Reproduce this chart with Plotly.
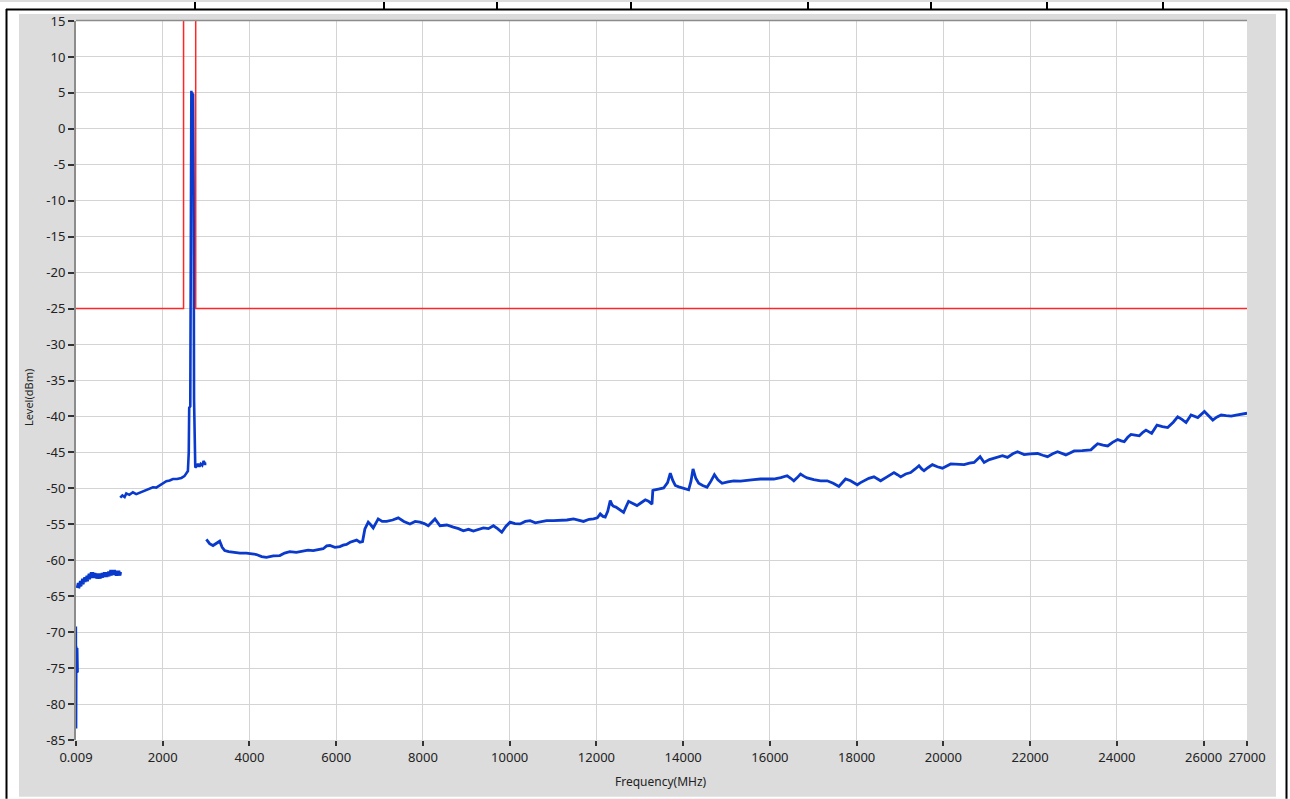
import plotly.graph_objects as go

# ---------------- data ----------------
seg1_freq = [0.009, 5, 10, 20, 30, 40]
seg1_level = [-69.2, -83.4, -72.0, -75.7, -72.2, -75.6]

seg2_freq = [45, 70, 95, 120, 145, 170, 195, 220, 245, 270, 295, 320, 345, 370, 395,
             420, 445, 470, 495, 520, 545, 570, 595, 620, 645, 670, 695, 720, 745, 770,
             795, 820, 845, 870, 895, 920, 945, 970, 995, 1010]
seg2_level = [-63.9, -63.2, -63.6, -62.9, -63.3, -62.6, -63.0, -62.4, -62.9, -62.2,
              -62.6, -61.9, -62.4, -61.7, -62.3, -61.8, -62.4, -61.9, -62.5, -62.0,
              -62.5, -61.9, -62.4, -61.8, -62.3, -61.7, -62.3, -61.7, -62.2, -61.6,
              -62.1, -61.4, -62.0, -61.4, -62.0, -61.5, -62.1, -61.5, -62.1, -61.6]

seg3_freq = [1020, 1070, 1120, 1159, 1230, 1312, 1390, 1466, 1540, 1621, 1700, 1773,
             1850, 1928, 2000, 2083, 2160, 2235, 2330, 2429, 2500, 2540, 2580, 2600,
             2610, 2635, 2645, 2660, 2670, 2680, 2690, 2700, 2712, 2722, 2750, 2790,
             2812, 2845, 2875, 2910, 2944, 2975, 3006]
seg3_level = [-51.3, -51.0, -51.2, -50.7, -50.9, -50.55, -50.8, -50.6, -50.45, -50.3,
              -50.0, -49.85, -49.9, -49.6, -49.4, -49.0, -48.9, -48.7, -48.7, -48.55,
              -48.3, -48.0, -47.6, -45.0, -38.8, -38.6, -8.7, 5.3, -8.5, 5.1, -8.6,
              4.9, -8.7, -37.6, -47.1, -46.9, -46.6, -47.0, -46.6, -46.8, -46.2,
              -46.6, -46.6]

seg4_freq = [3006, 3080, 3159, 3240, 3313, 3370, 3429, 3520, 3621, 3780, 3929, 4040,
             4160, 4280, 4391, 4550, 4699, 4810, 4930, 5080, 5237, 5350, 5468, 5590,
             5699, 5780, 5853, 5970, 6084, 6160, 6238, 6320, 6391, 6470, 6546, 6607,
             6661, 6738, 6800, 6853, 6968, 7060, 7162, 7300, 7430, 7560, 7700, 7820,
             7931, 8030, 8123, 8277, 8393, 8550, 8700, 8820, 8931, 9050, 9162, 9280,
             9393, 9510, 9624, 9720, 9817, 9910, 10009, 10120, 10240, 10360, 10471,
             10590, 10702, 10850, 11009, 11164, 11318, 11472, 11600, 11702, 11830,
             11933, 12020, 12088, 12150, 12203, 12260, 12318, 12360, 12395, 12450,
             12510, 12570, 12626, 12680, 12741, 12840, 12935, 13030, 13127, 13200,
             13281, 13300, 13318, 13430, 13549, 13640, 13703, 13760, 13818, 13900,
             14011, 14126, 14180, 14227, 14290, 14357, 14450, 14550, 14640, 14720,
             14800, 14897, 15030, 15165, 15320, 15474, 15630, 15781, 15930, 16089,
             16250, 16397, 16480, 16551, 16630, 16705, 16780, 16859, 17010, 17167,
             17321, 17460, 17590, 17660, 17744, 17859, 18014, 18090, 18167, 18280,
             18398, 18480, 18552, 18700, 18860, 18940, 19014, 19130, 19245, 19350,
             19437, 19500, 19553, 19650, 19746, 19860, 19977, 20169, 20320, 20477,
             20600, 20708, 20846, 20939, 21060, 21170, 21270, 21362, 21478, 21600,
             21709, 21862, 22010, 22170, 22290, 22401, 22520, 22632, 22824, 23016,
             23200, 23401, 23480, 23556, 23680, 23787, 23900, 24018, 24100, 24170,
             24250, 24325, 24420, 24517, 24600, 24671, 24802, 24925, 25050, 25171,
             25300, 25402, 25500, 25595, 25710, 25865, 26018, 26110, 26212, 26300,
             26404, 26520, 26635, 26750, 26866, 27000]
seg4_level = [-57.1, -57.7, -57.95, -57.6, -57.35, -58.2, -58.65, -58.8, -58.9, -59.0,
              -59.0, -59.1, -59.2, -59.5, -59.6, -59.4, -59.35, -59.0, -58.8, -58.9,
              -58.75, -58.6, -58.65, -58.5, -58.4, -58.0, -57.95, -58.2, -58.1, -57.9,
              -57.8, -57.5, -57.35, -57.2, -57.5, -57.4, -55.65, -54.7, -55.1, -55.5,
              -54.25, -54.6, -54.6, -54.4, -54.1, -54.6, -54.95, -54.6, -54.7, -54.9,
              -55.2, -54.25, -55.2, -55.1, -55.4, -55.6, -55.9, -55.7, -55.95, -55.7,
              -55.5, -55.6, -55.2, -55.6, -56.1, -55.3, -54.7, -54.9, -54.95, -54.6,
              -54.5, -54.8, -54.7, -54.5, -54.5, -54.5, -54.4, -54.25, -54.4, -54.6,
              -54.3, -54.25, -54.1, -53.55, -53.9, -54.0, -53.2, -51.7, -52.3, -52.5,
              -52.6, -52.9, -53.1, -53.35, -52.6, -51.8, -52.1, -52.4, -52.0, -51.6,
              -51.8, -52.2, -50.3, -50.25, -50.1, -49.95, -49.2, -47.9, -48.9, -49.6,
              -49.8, -49.95, -50.2, -49.0, -47.3, -48.6, -49.3, -49.6, -49.85, -49.0,
              -48.1, -48.8, -49.3, -49.1, -48.95, -49.0, -48.95, -48.8, -48.7, -48.75,
              -48.7, -48.5, -48.25, -48.6, -48.95, -48.5, -48.0, -48.3, -48.55, -48.8,
              -48.95, -48.95, -49.3, -49.75, -49.2, -48.7, -48.95, -49.5, -49.2, -48.95,
              -48.6, -48.4, -48.7, -48.95, -48.4, -47.8, -48.1, -48.4, -48.0, -47.8,
              -47.3, -46.85, -47.3, -47.55, -47.1, -46.7, -47.0, -47.2, -46.6, -46.7,
              -46.7, -46.5, -46.4, -45.6, -46.4, -46.0, -45.8, -45.7, -45.45, -45.7,
              -45.2, -44.9, -45.3, -45.2, -45.15, -45.4, -45.6, -45.2, -44.9, -45.35,
              -44.8, -44.75, -44.65, -44.2, -43.8, -44.0, -44.1, -43.6, -43.2, -43.4,
              -43.5, -42.9, -42.5, -42.6, -42.7, -42.2, -41.9, -42.35, -41.2, -41.4,
              -41.55, -40.8, -40.05, -40.4, -40.85, -39.8, -40.15, -39.3, -39.9, -40.5,
              -40.1, -39.8, -39.9, -39.95, -39.8, -39.7, -39.55]

limit_freq = [0.009, 2480, 2480, 2760, 2760, 27000]
limit_level = [-25, -25, 40, 40, -25, -25]

x_tickvals = [0.009, 2000, 4000, 6000, 8000, 10000, 12000, 14000, 16000, 18000,
              20000, 22000, 24000, 26000, 27000]
x_ticktext = ["0.009", "2000", "4000", "6000", "8000", "10000", "12000", "14000",
              "16000", "18000", "20000", "22000", "24000", "26000", "27000"]
y_tickvals = list(range(15, -90, -5))
y_ticktext = [str(v) for v in y_tickvals]

# ---------------- layout geometry (pixels) ----------------
W, H = 1290, 799
L, R, T, B = 76, 1247, 19, 740


def px(xp):
    return (xp - L) / (R - L)


def py(yp):
    return 1 - (yp - T) / (B - T)


BLUE = "#0a3acc"
RED = "#ff2626"

fig = go.Figure()
for fx, fy, lw in [(seg1_freq, seg1_level, 2.3), (seg2_freq, seg2_level, 4.5),
                   (seg3_freq, seg3_level, 2.6), (seg4_freq, seg4_level, 2.8)]:
    fig.add_trace(go.Scatter(x=fx, y=fy, mode="lines",
                             line=dict(color=BLUE, width=lw), hoverinfo="skip",
                             showlegend=False))
fig.add_trace(go.Scatter(x=limit_freq, y=limit_level, mode="lines",
                         line=dict(color=RED, width=1.5), hoverinfo="skip",
                         showlegend=False))

shapes = []
# white area outside grey panel
for x0, y0, x1, y1 in [(0, 0, 19, H), (1276, 0, W, H), (0, 0, W, 12), (0, 797, W, H)]:
    shapes.append(dict(type="rect", xref="paper", yref="paper", layer="below",
                       x0=px(x0), x1=px(x1), y0=py(y0), y1=py(y1),
                       fillcolor="white", line=dict(width=0)))
# black outer frame
shapes.append(dict(type="line", xref="paper", yref="paper", x0=px(6.5), x1=px(6.5),
                   y0=py(7), y1=py(H), line=dict(color="black", width=2)))
shapes.append(dict(type="line", xref="paper", yref="paper", x0=px(1286.5), x1=px(1286.5),
                   y0=py(7), y1=py(H), line=dict(color="black", width=2)))
shapes.append(dict(type="line", xref="paper", yref="paper", x0=px(6), x1=px(1287),
                   y0=py(7.5), y1=py(7.5), line=dict(color="black", width=2)))
for xv in [195, 384, 497, 631, 808, 931, 1047, 1163]:
    shapes.append(dict(type="line", xref="paper", yref="paper", x0=px(xv), x1=px(xv),
                       y0=py(0), y1=py(7.5), line=dict(color="black", width=2)))
# top frame line of the plot area
shapes.append(dict(type="line", xref="paper", yref="paper", x0=0, x1=1,
                   y0=py(18.5), y1=py(18.5), line=dict(color="#8c8c8c", width=1.5)))

FONT = "Noto Sans"
fig.update_layout(
    width=W, height=H, autosize=False,
    margin=dict(l=L, r=W - R, t=T, b=H - B, pad=0),
    paper_bgcolor="#dcdcdc", plot_bgcolor="white",
    font=dict(family=FONT, size=13, color="#222222"),
    shapes=shapes,
    xaxis=dict(range=[0.009, 27000], tickvals=x_tickvals, ticktext=x_ticktext,
               showgrid=True, gridcolor="#d4d4d4", gridwidth=1, zeroline=False,
               ticks="outside", ticklen=5, tickwidth=1.5, tickcolor="#333333",
               showline=False, tickfont=dict(size=13, color="#222222")),
    yaxis=dict(range=[-85, 15], tickvals=y_tickvals, ticktext=y_ticktext,
               showgrid=True, gridcolor="#d4d4d4", gridwidth=1, zeroline=False,
               ticks="outside", ticklen=6, tickwidth=1.5, tickcolor="#333333",
               showline=True, linecolor="#8c8c8c", linewidth=2,
               tickfont=dict(size=13, color="#222222")),
    annotations=[
        dict(text="Frequency(MHz)", xref="paper", yref="paper", x=px(661), y=py(782),
             showarrow=False, xanchor="center", yanchor="middle",
             font=dict(family=FONT, size=12, color="#222222")),
        dict(text="Level(dBm)", xref="paper", yref="paper", x=px(29), y=py(397),
             showarrow=False, xanchor="center", yanchor="middle", textangle=-90,
             font=dict(family=FONT, size=11, color="#222222")),
    ],
)

fig.write_html("out.html", config={"displayModeBar": False},
               post_script="document.body.style.margin='0';")
